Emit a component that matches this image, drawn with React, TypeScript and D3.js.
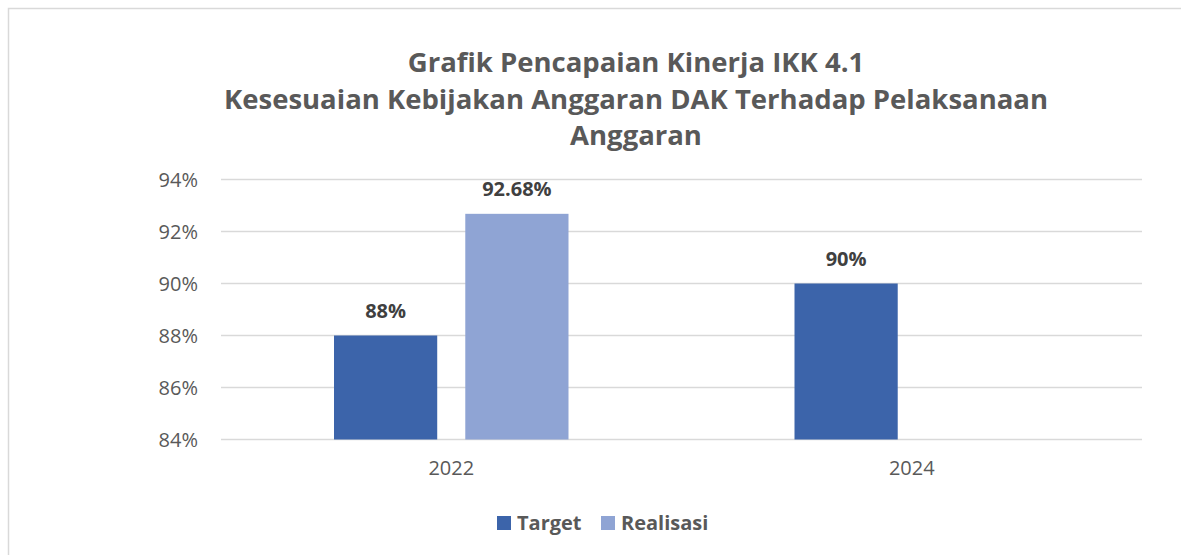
import React, { useEffect, useRef } from "react";
import * as d3 from "d3";

const titleLines = [
  "Grafik Pencapaian Kinerja IKK 4.1",
  "Kesesuaian Kebijakan Anggaran DAK Terhadap Pelaksanaan",
  "Anggaran",
];
const categories = ["2022", "2024"];
const seriesNames = ["Target", "Realisasi"];
const targetValues: (number | null)[] = [88, 90];
const realisasiValues: (number | null)[] = [92.68, null];
const targetLabels = ["88%", "90%"];
const realisasiLabels = ["92.68%", ""];
const yTicks = [84, 86, 88, 90, 92, 94];
const colors = ["#3c64aa", "#8fa4d4"];

const W = 1181;
const H = 555;
const FONT = "'Open Sans', 'Noto Sans', sans-serif";

export default function App() {
  const ref = useRef<SVGSVGElement>(null);

  useEffect(() => {
    const svg = d3.select(ref.current);
    svg.selectAll("*").remove();

    svg
      .append("rect")
      .attr("x", 8.5)
      .attr("y", 8.5)
      .attr("width", 1300)
      .attr("height", 700)
      .attr("fill", "#ffffff")
      .attr("stroke", "#d9d9d9")
      .attr("stroke-width", 1.5);

    const left = 221;
    const right = 1142;
    const y = d3.scaleLinear().domain([84, 94]).range([439.5, 179.5]);
    const x0 = d3.scaleBand().domain(categories).range([left, right]).paddingInner(0).paddingOuter(0);
    const x1 = d3
      .scaleBand()
      .domain(seriesNames)
      .range([113, x0.bandwidth() - 113])
      .paddingInner(28 / 131)
      .paddingOuter(0);

    // title
    const title = svg
      .append("text")
      .attr("text-anchor", "middle")
      .attr("font-family", FONT)
      .attr("font-weight", "bold")
      .attr("font-size", 27.5)
      .attr("fill", "#595959");
    titleLines.forEach((t, i) => {
      title
        .append("tspan")
        .attr("x", 636)
        .attr("y", 72 + i * 36.5)
        .text(t);
    });

    // gridlines
    svg
      .append("g")
      .selectAll("line")
      .data(yTicks)
      .join("line")
      .attr("x1", left)
      .attr("x2", right)
      .attr("y1", (d) => y(d))
      .attr("y2", (d) => y(d))
      .attr("stroke", "#d9d9d9")
      .attr("stroke-width", 1.5);

    // y tick labels
    svg
      .append("g")
      .selectAll("text")
      .data(yTicks)
      .join("text")
      .attr("x", 198)
      .attr("y", (d) => y(d))
      .attr("dy", "0.35em")
      .attr("text-anchor", "end")
      .attr("font-family", FONT)
      .attr("font-size", 20)
      .attr("fill", "#595959")
      .text((d) => `${d}%`);

    // x labels
    svg
      .append("g")
      .selectAll("text")
      .data(categories)
      .join("text")
      .attr("x", (d) => (x0(d) as number) + x0.bandwidth() / 2)
      .attr("y", 468)
      .attr("dy", "0.35em")
      .attr("text-anchor", "middle")
      .attr("font-family", FONT)
      .attr("font-size", 20)
      .attr("fill", "#595959")
      .text((d) => d);

    const series = [
      { name: "Target", values: targetValues, labels: targetLabels, color: colors[0] },
      { name: "Realisasi", values: realisasiValues, labels: realisasiLabels, color: colors[1] },
    ];

    series.forEach((s) => {
      const g = svg.append("g");
      categories.forEach((c, i) => {
        const v = s.values[i];
        if (v == null) return;
        const bx = (x0(c) as number) + (x1(s.name) as number);
        g.append("rect")
          .attr("x", bx)
          .attr("y", y(v))
          .attr("width", x1.bandwidth())
          .attr("height", y(84) - y(v))
          .attr("fill", s.color);
        g.append("text")
          .attr("x", bx + x1.bandwidth() / 2)
          .attr("y", y(v) - 25)
          .attr("dy", "0.35em")
          .attr("text-anchor", "middle")
          .attr("font-family", FONT)
          .attr("font-weight", "bold")
          .attr("font-size", 20)
          .attr("fill", "#404040")
          .text(s.labels[i]);
      });
    });

    // legend
    const legendItems = [
      { name: seriesNames[0], color: colors[0], x: 497 },
      { name: seriesNames[1], color: colors[1], x: 601 },
    ];
    const lg = svg.append("g");
    legendItems.forEach((it) => {
      lg.append("rect")
        .attr("x", it.x)
        .attr("y", 516)
        .attr("width", 14)
        .attr("height", 14)
        .attr("fill", it.color);
      lg.append("text")
        .attr("x", it.x + 20)
        .attr("y", 523)
        .attr("dy", "0.35em")
        .attr("font-family", FONT)
        .attr("font-weight", "bold")
        .attr("font-size", 20)
        .attr("fill", "#595959")
        .text(it.name);
    });
  }, []);

  return (
    <svg
      ref={ref}
      width={W}
      height={H}
      style={{ position: "absolute", left: 0, top: 0, background: "#ffffff" }}
    />
  );
}
